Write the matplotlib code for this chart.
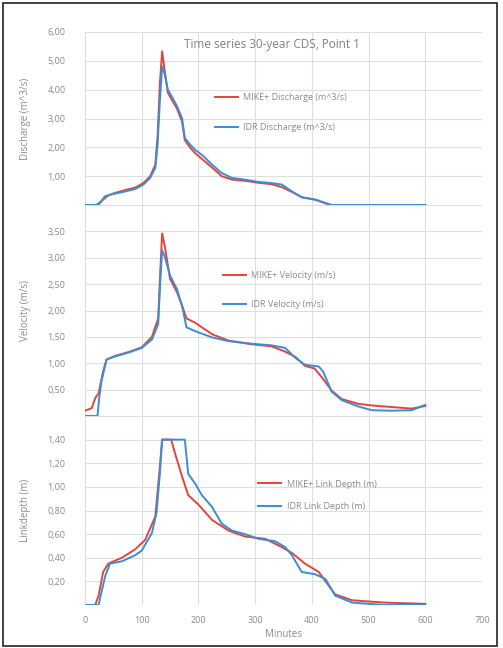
import numpy as np
import matplotlib
matplotlib.use("Agg")
import matplotlib.pyplot as plt
from matplotlib.patches import Rectangle
from matplotlib.ticker import FuncFormatter

# --- DATA ---
# Discharge (m^3/s)
q_mike_t = [0, 20, 30, 40, 50, 71, 88, 103, 115, 124, 128, 132, 136, 141, 146, 153, 162, 171,
            176, 185, 194, 209, 224, 241, 259, 282, 306, 329, 347, 365, 382, 406, 424, 432, 600]
q_mike_v = [0, 0, 0.15, 0.32, 0.40, 0.52, 0.60, 0.76, 1.00, 1.40, 2.40, 4.20, 5.33, 4.60, 3.90,
            3.65, 3.35, 2.90, 2.25, 2.00, 1.80, 1.55, 1.30, 1.00, 0.88, 0.84, 0.77, 0.72, 0.62,
            0.45, 0.27, 0.18, 0.06, 0, 0]
q_idr_t = [0, 24, 35, 47, 71, 88, 103, 115, 124, 128, 132, 136, 141, 146, 153, 162, 171, 176,
           185, 194, 209, 224, 241, 259, 282, 306, 329, 347, 365, 382, 406, 424, 435, 600]
q_idr_v = [0, 0, 0.30, 0.37, 0.47, 0.55, 0.71, 0.94, 1.29, 2.10, 3.60, 4.80, 4.50, 4.00, 3.77,
           3.43, 3.02, 2.33, 2.10, 1.92, 1.69, 1.40, 1.11, 0.94, 0.88, 0.80, 0.76, 0.71, 0.47,
           0.27, 0.19, 0.07, 0, 0]

# Velocity (m/s)
v_mike_t = [0, 12, 18, 24, 32, 38, 53, 76, 100, 118, 129, 133, 136, 141, 150, 162, 171, 179,
            194, 224, 253, 294, 329, 353, 371, 388, 405, 420, 435, 453, 482, 506, 541, 576, 600]
v_mike_v = [0.10, 0.15, 0.34, 0.43, 0.85, 1.07, 1.14, 1.21, 1.30, 1.50, 1.85, 2.80, 3.46, 3.20,
            2.60, 2.35, 2.10, 1.85, 1.77, 1.55, 1.43, 1.36, 1.32, 1.22, 1.12, 0.95, 0.90, 0.70,
            0.48, 0.32, 0.23, 0.20, 0.17, 0.14, 0.19]
v_idr_t = [0, 22, 25, 29, 38, 53, 76, 100, 118, 129, 133, 136, 141, 150, 162, 171, 179, 194,
           224, 253, 294, 329, 353, 371, 388, 412, 420, 435, 453, 482, 506, 541, 576, 600]
v_idr_v = [0, 0, 0.34, 0.66, 1.07, 1.13, 1.20, 1.29, 1.45, 1.74, 2.60, 3.14, 3.01, 2.66, 2.41,
           2.09, 1.68, 1.61, 1.49, 1.42, 1.37, 1.34, 1.29, 1.10, 0.97, 0.94, 0.84, 0.46, 0.30,
           0.18, 0.11, 0.10, 0.11, 0.21]

# Link depth (m)
d_mike_t = [0, 18, 24, 32, 41, 65, 88, 106, 124, 132, 136, 152, 159, 171, 182, 200, 224, 253,
            282, 318, 347, 365, 388, 412, 441, 471, 529, 600]
d_mike_v = [0, 0, 0.08, 0.28, 0.35, 0.40, 0.47, 0.55, 0.75, 1.17, 1.40, 1.40, 1.28, 1.09, 0.93,
            0.85, 0.72, 0.63, 0.58, 0.56, 0.49, 0.44, 0.35, 0.28, 0.09, 0.04, 0.02, 0.01]
d_idr_t = [0, 24, 29, 36, 44, 65, 88, 100, 118, 126, 132, 136, 176, 182, 194, 206, 224, 241,
           259, 282, 306, 335, 353, 365, 382, 406, 424, 441, 471, 529, 600]
d_idr_v = [0, 0, 0.11, 0.25, 0.35, 0.37, 0.42, 0.46, 0.61, 0.78, 1.11, 1.40, 1.40, 1.11, 1.03,
           0.93, 0.83, 0.69, 0.63, 0.60, 0.56, 0.54, 0.49, 0.42, 0.28, 0.26, 0.22, 0.08, 0.02,
           0.0, 0.0]

x_ticks = [0, 100, 200, 300, 400, 500, 600, 700]

RED = "#e2453b"
BLUE = "#3a8ed4"
GRID = "#dedede"
TXT = "#8a8a8a"

plt.rcParams["font.family"] = ["Open Sans", "DejaVu Sans"]

fig = plt.figure(figsize=(5.03, 6.48), dpi=100)
W, H = 503, 648
left, right = 85, 482


def add_panel(top, bottom):
    return fig.add_axes([left / W, 1 - bottom / H, (right - left) / W, (bottom - top) / H])


comma = FuncFormatter(lambda v, p: "" if abs(v) < 1e-9 else f"{v:.2f}".replace(".", ","))

panels = [
    dict(top=32, bottom=205, ylim=6.0, step=1.0, ylabel="Discharge (m^3/s)",
         mike=(q_mike_t, q_mike_v), idr=(q_idr_t, q_idr_v),
         labels=("MIKE+ Discharge (m^3/s)", "IDR Discharge (m^3/s)"),
         leg=(0.315, 0.535), spacing=2.3),
    dict(top=205, bottom=416, ylim=4.0, step=0.5, ylabel="Velocity (m/s)",
         mike=(v_mike_t, v_mike_v), idr=(v_idr_t, v_idr_v),
         labels=("MIKE+ Velocity (m/s)", "IDR Velocity (m/s)"),
         leg=(0.335, 0.598), spacing=2.2),
    dict(top=416, bottom=605, ylim=1.6, step=0.2, ylabel="Linkdepth (m)",
         mike=(d_mike_t, d_mike_v), idr=(d_idr_t, d_idr_v),
         labels=("MIKE+ Link Depth (m)", "IDR Link Depth (m)"),
         leg=(0.4235, 0.581), spacing=1.45),
]

axes = []
for i, p in enumerate(panels):
    ax = add_panel(p["top"], p["bottom"])
    ax.plot(*p["mike"], color=RED, lw=1.4, label=p["labels"][0], zorder=3)
    ax.plot(*p["idr"], color=BLUE, lw=1.4, label=p["labels"][1], zorder=4)
    ax.set_xlim(0, 700)
    ax.set_ylim(0, p["ylim"])
    ax.set_xticks(x_ticks)
    yt = np.arange(0, p["ylim"] + 1e-9, p["step"])
    ax.set_yticks(yt)
    ax.yaxis.set_major_formatter(comma)
    # top tick label of lower panels is hidden (shared border)
    if i > 0:
        ax.set_yticklabels([comma(v, None) if v < p["ylim"] - 1e-9 else "" for v in yt])
    ax.grid(True, color=GRID, lw=0.8)
    ax.set_axisbelow(True)
    for s in ax.spines.values():
        s.set_visible(False)
    ax.tick_params(length=0, labelsize=6.5, labelcolor=TXT, pad=14)
    ax.set_ylabel(p["ylabel"], fontsize=7, color=TXT)
    ax.yaxis.set_label_coords(-0.135, 0.5)
    if i < 2:
        ax.tick_params(labelbottom=False)
    ax.legend(loc="center left", bbox_to_anchor=p["leg"], frameon=False, fontsize=6.5,
              labelcolor=TXT, handlelength=2.6, handletextpad=0.6, borderpad=0,
              labelspacing=p["spacing"])
    ax.patch.set_alpha(0)
    axes.append(ax)

axes[0].text(0.47, 0.925, "Time series 30-year CDS, Point 1", transform=axes[0].transAxes,
             ha="center", va="center", fontsize=8.5, color="#808080")
axes[2].tick_params(axis="x", pad=8)
axes[2].set_xlabel("Minutes", fontsize=7, color=TXT, labelpad=3)

fig.patches.append(Rectangle((3 / W, 2 / H), 494 / W, 643 / H, transform=fig.transFigure,
                             fill=False, edgecolor="#222222", lw=1.2))

fig.savefig("out.png", dpi=100)
